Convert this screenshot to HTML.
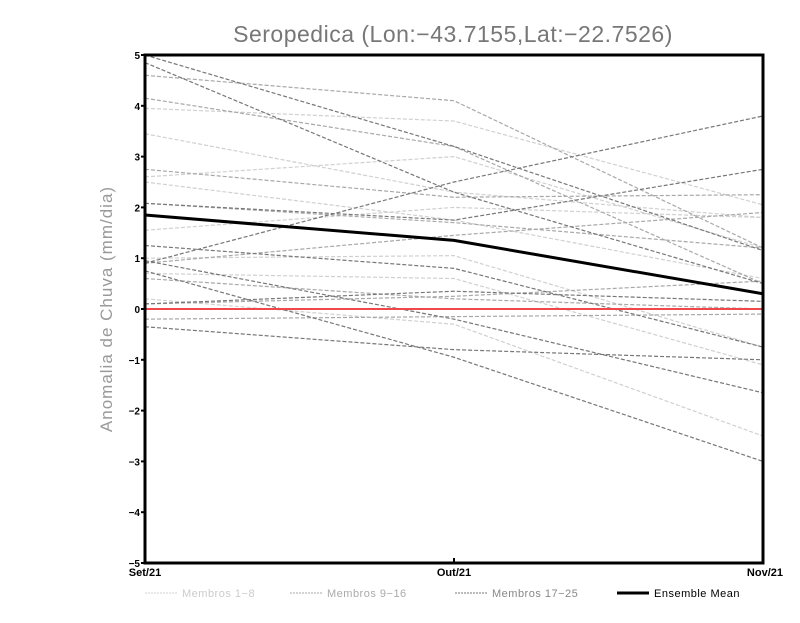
<!DOCTYPE html>
<html><head><meta charset="utf-8"><style>
body{margin:0;background:#fff;width:800px;height:618px;overflow:hidden}
text{font-family:"Liberation Sans",sans-serif}
</style></head><body>
<svg id="chart" width="800" height="618" viewBox="0 0 800 618" xmlns="http://www.w3.org/2000/svg">
<text x="453" y="42" text-anchor="middle" font-size="23" fill="#777" letter-spacing="0.5">Seropedica (Lon:−43.7155,Lat:−22.7526)</text>
<text transform="translate(112,309) rotate(-90)" text-anchor="middle" font-size="17" fill="#999" letter-spacing="1">Anomalia de Chuva (mm/dia)</text>
<g id="grid"></g>
<g id="series"></g>
<g id="axes"></g>
<g id="legend"></g>
</svg>
<script>
const categories=["Set/21","Out/21","Nov/21"];
const yTicks=[-5,-4,-3,-2,-1,0,1,2,3,4,5];
const membros1_8=[[3.95,3.7,2.05],[3.45,2.3,1.8],[2.6,3.0,1.2],[1.55,2.0,1.8],[2.5,1.75,0.6],[1.0,1.05,-0.75],[0.2,-0.3,-2.5],[0.7,0.6,-1.1]];
const membros9_16=[[4.6,4.1,1.2],[4.15,3.2,0.5],[2.75,2.2,2.25],[2.08,1.7,1.2],[0.6,0.2,0.0],[0.9,1.45,1.9],[0.1,0.25,0.55],[-0.2,-0.15,-0.1]];
const membros17_25=[[5.0,3.2,1.15],[4.85,2.3,0.5],[0.9,2.5,3.8],[2.08,1.75,2.75],[0.95,-0.2,-1.65],[1.25,0.8,-0.75],[0.1,0.35,0.15],[0.75,-0.95,-3.0],[-0.35,-0.8,-1.0]];
const ensembleMean=[1.85,1.35,0.3];
const NS="http://www.w3.org/2000/svg";
const X0=145,X1=763,Y0=563,Y1=55;
function xs(i){return X0+(X1-X0)*i/(categories.length-1);}
function ys(v){return Y0-(v+5)/10*(Y0-Y1);}
function mk(tag,parent,attrs){const e=document.createElementNS(NS,tag);for(const k in attrs)e.setAttribute(k,attrs[k]);parent.appendChild(e);return e;}
const series=document.getElementById('series');
function drawLine(vals,color,dash,w,name){
  const p=mk('polyline',series,{points:vals.map((v,i)=>xs(i)+','+ys(v)).join(' '),fill:'none',stroke:color,'stroke-width':w,'stroke-dasharray':dash});
  
  
}
membros1_8.forEach((s,i)=>drawLine(s,'#d0d0d0','4 2',1.2,'membro-1-8-line'));
membros9_16.forEach((s,i)=>drawLine(s,'#a8a8a8','4 2',1.2,'membro-9-16-line'));
membros17_25.forEach((s,i)=>drawLine(s,'#777','4 2',1.2,'membro-17-25-line'));
const zl=mk('line',series,{x1:X0,x2:X1,y1:ys(0),y2:ys(0),stroke:'#f04848','stroke-width':2});


drawLine(ensembleMean,'#000','none',3,'ensemble-mean-line');
const axes=document.getElementById('axes');
const fr=mk('rect',axes,{x:X0,y:Y1,width:X1-X0,height:Y0-Y1,fill:'none',stroke:'#000','stroke-width':3});


yTicks.forEach(v=>{
  mk('line',axes,{x1:X0-4,x2:X0,y1:ys(v),y2:ys(v),stroke:'#000','stroke-width':2});
  const t=mk('text',axes,{x:X0-5,y:ys(v)+4,'text-anchor':'end','font-size':10,'font-weight':'bold',fill:'#000'});
  t.textContent=v<0?'−'+(-v):String(v);
  
  
});
categories.forEach((c,i)=>{
  mk('line',axes,{x1:xs(i),x2:xs(i),y1:Y0,y2:Y0-5,stroke:'#000','stroke-width':2});
  const t=mk('text',axes,{x:i==2?xs(i)+20:xs(i),y:Y0+13,'text-anchor':i==2?'end':'middle','font-size':11,'font-weight':'bold',fill:'#000'});
  t.textContent=c;
  
  
});
const legend=document.getElementById('legend');
const leg=[["Membros 1−8","#d0d0d0","#ccc",145],["Membros 9−16","#a8a8a8","#aaa",290],["Membros 17−25","#777","#888",455],["Ensemble Mean","#000","#000",617]];
leg.forEach((l,i)=>{
  const g=mk('g',legend,{});
  
  
  mk('line',g,{x1:l[3],x2:l[3]+32,y1:593,y2:593,stroke:l[1],'stroke-width':i==3?3:1,'stroke-dasharray':i==3?'none':'2 1'});
  const t=mk('text',g,{x:l[3]+37,y:597,'font-size':11,fill:l[2],'letter-spacing':'0.5'});
  t.textContent=l[0];
});
</script>
</body></html>
